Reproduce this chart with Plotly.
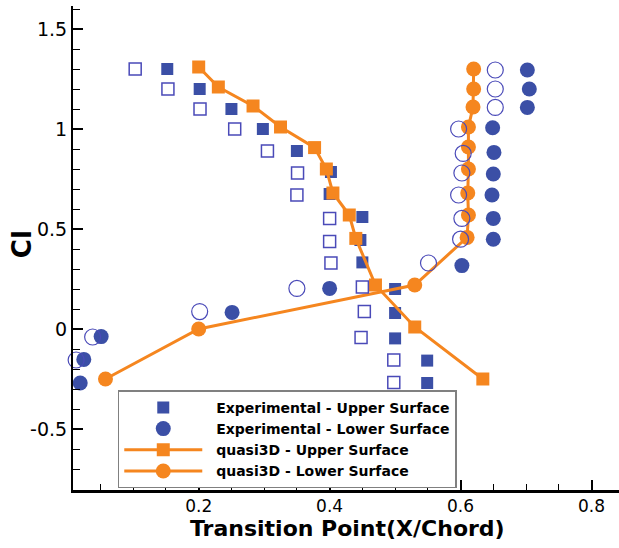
import plotly.graph_objects as go

# Experimental data, upper surface (filled squares) and companion set (open squares)
exp_up_x = [0.152, 0.2015, 0.25, 0.298, 0.35, 0.402, 0.40, 0.45, 0.447, 0.45, 0.50, 0.50, 0.50, 0.549, 0.549]
exp_up_cl = [1.30, 1.20, 1.10, 1.00, 0.89, 0.785, 0.675, 0.56, 0.445, 0.333, 0.20, 0.08, -0.047, -0.158, -0.27]
exp_up2_x = [0.103, 0.153, 0.202, 0.255, 0.305, 0.351, 0.35, 0.40, 0.40, 0.402, 0.45, 0.453, 0.448, 0.498, 0.498]
exp_up2_cl = [1.30, 1.20, 1.10, 1.00, 0.89, 0.78, 0.67, 0.553, 0.437, 0.33, 0.21, 0.087, -0.043, -0.155, -0.267]

# Experimental data, lower surface (filled circles) and companion set (open circles)
exp_lo_x = [0.019, 0.0245, 0.051, 0.251, 0.40, 0.602, 0.65, 0.65, 0.648, 0.65, 0.651, 0.649, 0.702, 0.705, 0.702]
exp_lo_cl = [-0.27, -0.152, -0.038, 0.083, 0.203, 0.317, 0.449, 0.553, 0.67, 0.775, 0.883, 1.006, 1.108, 1.20, 1.295]
exp_lo2_x = [0.0067, 0.0128, 0.038, 0.2015, 0.35, 0.551, 0.60, 0.602, 0.597, 0.602, 0.604, 0.597, 0.653, 0.653, 0.653]
exp_lo2_cl = [-0.28, -0.155, -0.04, 0.087, 0.203, 0.33, 0.449, 0.553, 0.67, 0.78, 0.878, 1.00, 1.108, 1.20, 1.295]

# quasi3D predictions
q3d_up_x = [0.20, 0.23, 0.283, 0.325, 0.377, 0.395, 0.405, 0.43, 0.44, 0.47, 0.53, 0.634]
q3d_up_cl = [1.31, 1.21, 1.115, 1.01, 0.907, 0.80, 0.68, 0.57, 0.453, 0.22, 0.01, -0.25]
q3d_lo_x = [0.0576, 0.20, 0.53, 0.61, 0.612, 0.611, 0.612, 0.612, 0.612, 0.619, 0.62, 0.62]
q3d_lo_cl = [-0.25, 0.0, 0.22, 0.458, 0.57, 0.68, 0.80, 0.91, 1.01, 1.11, 1.20, 1.30]

x_title = "Transition Point(X/Chord)"
y_title = "Cl"

BLUE = "#3b4fa6"
BLUE_OPEN = "#4a4ab8"
ORANGE = "#f5861f"
FONT = "DejaVu Sans, Verdana, sans-serif"
GAP = "\u00a0\u00a0"  # small gap between legend symbol and label

fig = go.Figure()

fig.add_trace(go.Scatter(
    x=exp_up_x, y=exp_up_cl, mode="markers", name=GAP + "<b>Experimental - Upper Surface</b>",
    marker=dict(symbol="square", size=12, color=BLUE), cliponaxis=False))
fig.add_trace(go.Scatter(
    x=exp_lo_x, y=exp_lo_cl, mode="markers", name=GAP + "<b>Experimental - Lower Surface</b>",
    marker=dict(symbol="circle", size=15, color=BLUE), cliponaxis=False))
fig.add_trace(go.Scatter(
    x=q3d_up_x, y=q3d_up_cl, mode="lines+markers", name=GAP + "<b>quasi3D - Upper Surface</b>",
    line=dict(color=ORANGE, width=3),
    marker=dict(symbol="square", size=13, color=ORANGE), cliponaxis=False))
fig.add_trace(go.Scatter(
    x=q3d_lo_x, y=q3d_lo_cl, mode="lines+markers", name=GAP + "<b>quasi3D - Lower Surface</b>",
    line=dict(color=ORANGE, width=3),
    marker=dict(symbol="circle", size=15, color=ORANGE), cliponaxis=False))
fig.add_trace(go.Scatter(
    x=exp_up2_x, y=exp_up2_cl, mode="markers", showlegend=False,
    marker=dict(symbol="square-open", size=12, color=BLUE_OPEN, line=dict(width=1.5)),
    cliponaxis=False))
fig.add_trace(go.Scatter(
    x=exp_lo2_x, y=exp_lo2_cl, mode="markers", showlegend=False,
    marker=dict(symbol="circle-open", size=16, color=BLUE_OPEN, line=dict(width=1.2)),
    cliponaxis=False))

fig.update_layout(
    width=619, height=548,
    margin=dict(l=73, r=0, t=6, b=58),
    paper_bgcolor="white", plot_bgcolor="white",
    font=dict(family=FONT, color="black"),
    xaxis=dict(
        range=[0.008, 0.842], tickvals=[0.2, 0.4, 0.6, 0.8], ticktext=["0.2", "0.4", "0.6", "0.8"],
        ticks="inside", ticklen=10, tickwidth=1.5, tickcolor="black",
        minor=dict(dtick=0.05, tick0=0, ticks="inside", ticklen=6, tickwidth=1, tickcolor="black"),
        showline=True, linecolor="black", linewidth=2.5, mirror=False,
        showgrid=False, zeroline=False,
        tickfont=dict(family=FONT, size=17, color="black"), ticklabelstandoff=-1,
    ),
    yaxis=dict(
        range=[-0.805, 1.615], tickvals=[-0.5, 0, 0.5, 1, 1.5], ticktext=["-0.5", "0", "0.5", "1", "1.5"],
        ticks="inside", ticklen=10, tickwidth=1.5, tickcolor="black",
        minor=dict(dtick=0.1, tick0=0, ticks="inside", ticklen=7, tickwidth=1, tickcolor="black"),
        showline=True, linecolor="black", linewidth=2, mirror=False,
        showgrid=False, zeroline=False,
        tickfont=dict(family=FONT, size=19, color="black"),
    ),
    legend=dict(
        x=0.082, y=0.206, xanchor="left", yanchor="top",
        bgcolor="white", bordercolor="#808080", borderwidth=1.5,
        font=dict(family=FONT, size=14, color="black"),
        itemwidth=78, tracegroupgap=0,
    ),
    annotations=[
        dict(text="<b>" + x_title + "</b>", xref="paper", yref="paper",
             x=0.502, y=-0.079, xanchor="center", yanchor="middle", showarrow=False,
             font=dict(family=FONT, size=22, color="black")),
        dict(text="<b>" + y_title + "</b>", xref="paper", yref="paper",
             x=-0.0934, y=0.508, xanchor="center", yanchor="middle", showarrow=False,
             textangle=-90, font=dict(family=FONT, size=26, color="black")),
    ],
)

fig.write_html("out.html")
